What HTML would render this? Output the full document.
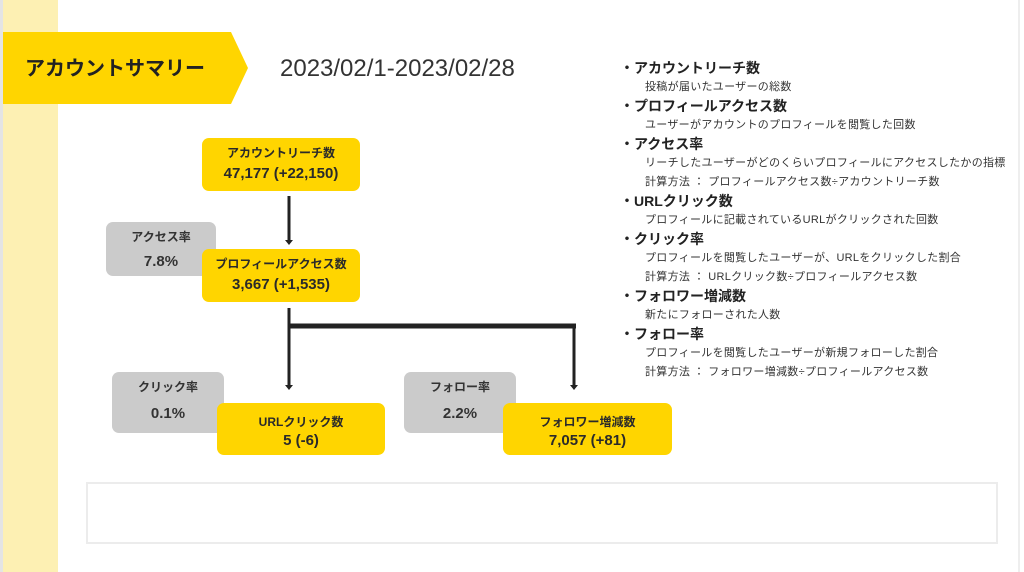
<!DOCTYPE html>
<html><head><meta charset="utf-8"><style>
body{margin:0;width:1024px;height:572px;background:#fff;position:relative;overflow:hidden;font-family:"Liberation Sans","Noto Sans CJK JP",sans-serif;color:#222}
.a{position:absolute}
.y{background:#ffd500;border-radius:7px;text-align:center;font-weight:bold;color:#2a2a2a}
.g{background:#cbcbcb;border-radius:7px;text-align:center;font-weight:bold;color:#333}
.t1{font-size:12px;margin-top:6px}
.t2{font-size:15px;margin-top:4px}
.h{font-size:14px;font-weight:bold;left:620px;color:#222}
.d{font-size:11px;left:645px;color:#333;letter-spacing:0.3px}
</style></head><body>
<div class="a" style="left:0;top:0;width:3px;height:572px;background:#e4e4e4"></div>
<div class="a" style="left:3px;top:0;width:55px;height:572px;background:#fdf0b3"></div>
<div class="a" style="left:1018px;top:0;width:2px;height:572px;background:#eee"></div>
<svg class="a" style="left:0;top:0" width="1024" height="572">
<polygon points="3,32 231,32 248,68 231,104 3,104" fill="#ffd500"/>
<g stroke="#222" stroke-width="3" fill="#222">
<line x1="289" y1="196" x2="289" y2="241"/>
<line x1="289" y1="308" x2="289" y2="386"/>
<line x1="288" y1="326" x2="576" y2="326" stroke-width="5"/>
<line x1="574" y1="324" x2="574" y2="386"/>
</g>
<polygon points="285,240 293,240 289,245" fill="#222"/>
<polygon points="285,385 293,385 289,390" fill="#222"/>
<polygon points="570,385 578,385 574,390" fill="#222"/>
</svg>
<div class="a" style="left:25px;top:52px;font-size:20px;color:#222;font-weight:600">アカウントサマリー</div>
<div class="a" style="left:280px;top:55px;font-size:24px;color:#333">2023/02/1-2023/02/28</div>

<div class="a y" style="left:202px;top:138px;width:158px;height:53px"><div class="t1">アカウントリーチ数</div><div class="t2">47,177 (+22,150)</div></div>
<div class="a g" style="left:106px;top:222px;width:110px;height:54px"><div class="t1">アクセス率</div><div class="t2" style="margin-top:8px">7.8%</div></div>
<div class="a y" style="left:202px;top:249px;width:158px;height:53px"><div class="t1">プロフィールアクセス数</div><div class="t2">3,667 (+1,535)</div></div>

<div class="a g" style="left:112px;top:372px;width:112px;height:61px"><div class="t1">クリック率</div><div class="t2" style="margin-top:10px">0.1%</div></div>
<div class="a y" style="left:217px;top:403px;width:168px;height:52px"><div class="t1" style="margin-top:10px">URLクリック数</div><div class="t2" style="margin-top:2px">5 (-6)</div></div>
<div class="a g" style="left:404px;top:372px;width:112px;height:61px"><div class="t1">フォロー率</div><div class="t2" style="margin-top:10px">2.2%</div></div>
<div class="a y" style="left:503px;top:403px;width:169px;height:52px"><div class="t1" style="margin-top:10px">フォロワー増減数</div><div class="t2" style="margin-top:2px">7,057 (+81)</div></div>

<div class="a" style="left:86px;top:482px;width:908px;height:58px;border:2px solid #ececec"></div>

<div class="a h" style="top:58px">・アカウントリーチ数</div>
<div class="a d" style="top:78px">投稿が届いたユーザーの総数</div>
<div class="a h" style="top:96px">・プロフィールアクセス数</div>
<div class="a d" style="top:116px">ユーザーがアカウントのプロフィールを閲覧した回数</div>
<div class="a h" style="top:134px">・アクセス率</div>
<div class="a d" style="top:154px">リーチしたユーザーがどのくらいプロフィールにアクセスしたかの指標</div>
<div class="a d" style="top:173px">計算方法 ： プロフィールアクセス数÷アカウントリーチ数</div>
<div class="a h" style="top:191px">・URLクリック数</div>
<div class="a d" style="top:211px">プロフィールに記載されているURLがクリックされた回数</div>
<div class="a h" style="top:229px">・クリック率</div>
<div class="a d" style="top:249px">プロフィールを閲覧したユーザーが、URLをクリックした割合</div>
<div class="a d" style="top:268px">計算方法 ： URLクリック数÷プロフィールアクセス数</div>
<div class="a h" style="top:286px">・フォロワー増減数</div>
<div class="a d" style="top:306px">新たにフォローされた人数</div>
<div class="a h" style="top:324px">・フォロー率</div>
<div class="a d" style="top:344px">プロフィールを閲覧したユーザーが新規フォローした割合</div>
<div class="a d" style="top:363px">計算方法 ： フォロワー増減数÷プロフィールアクセス数</div>
</body></html>
